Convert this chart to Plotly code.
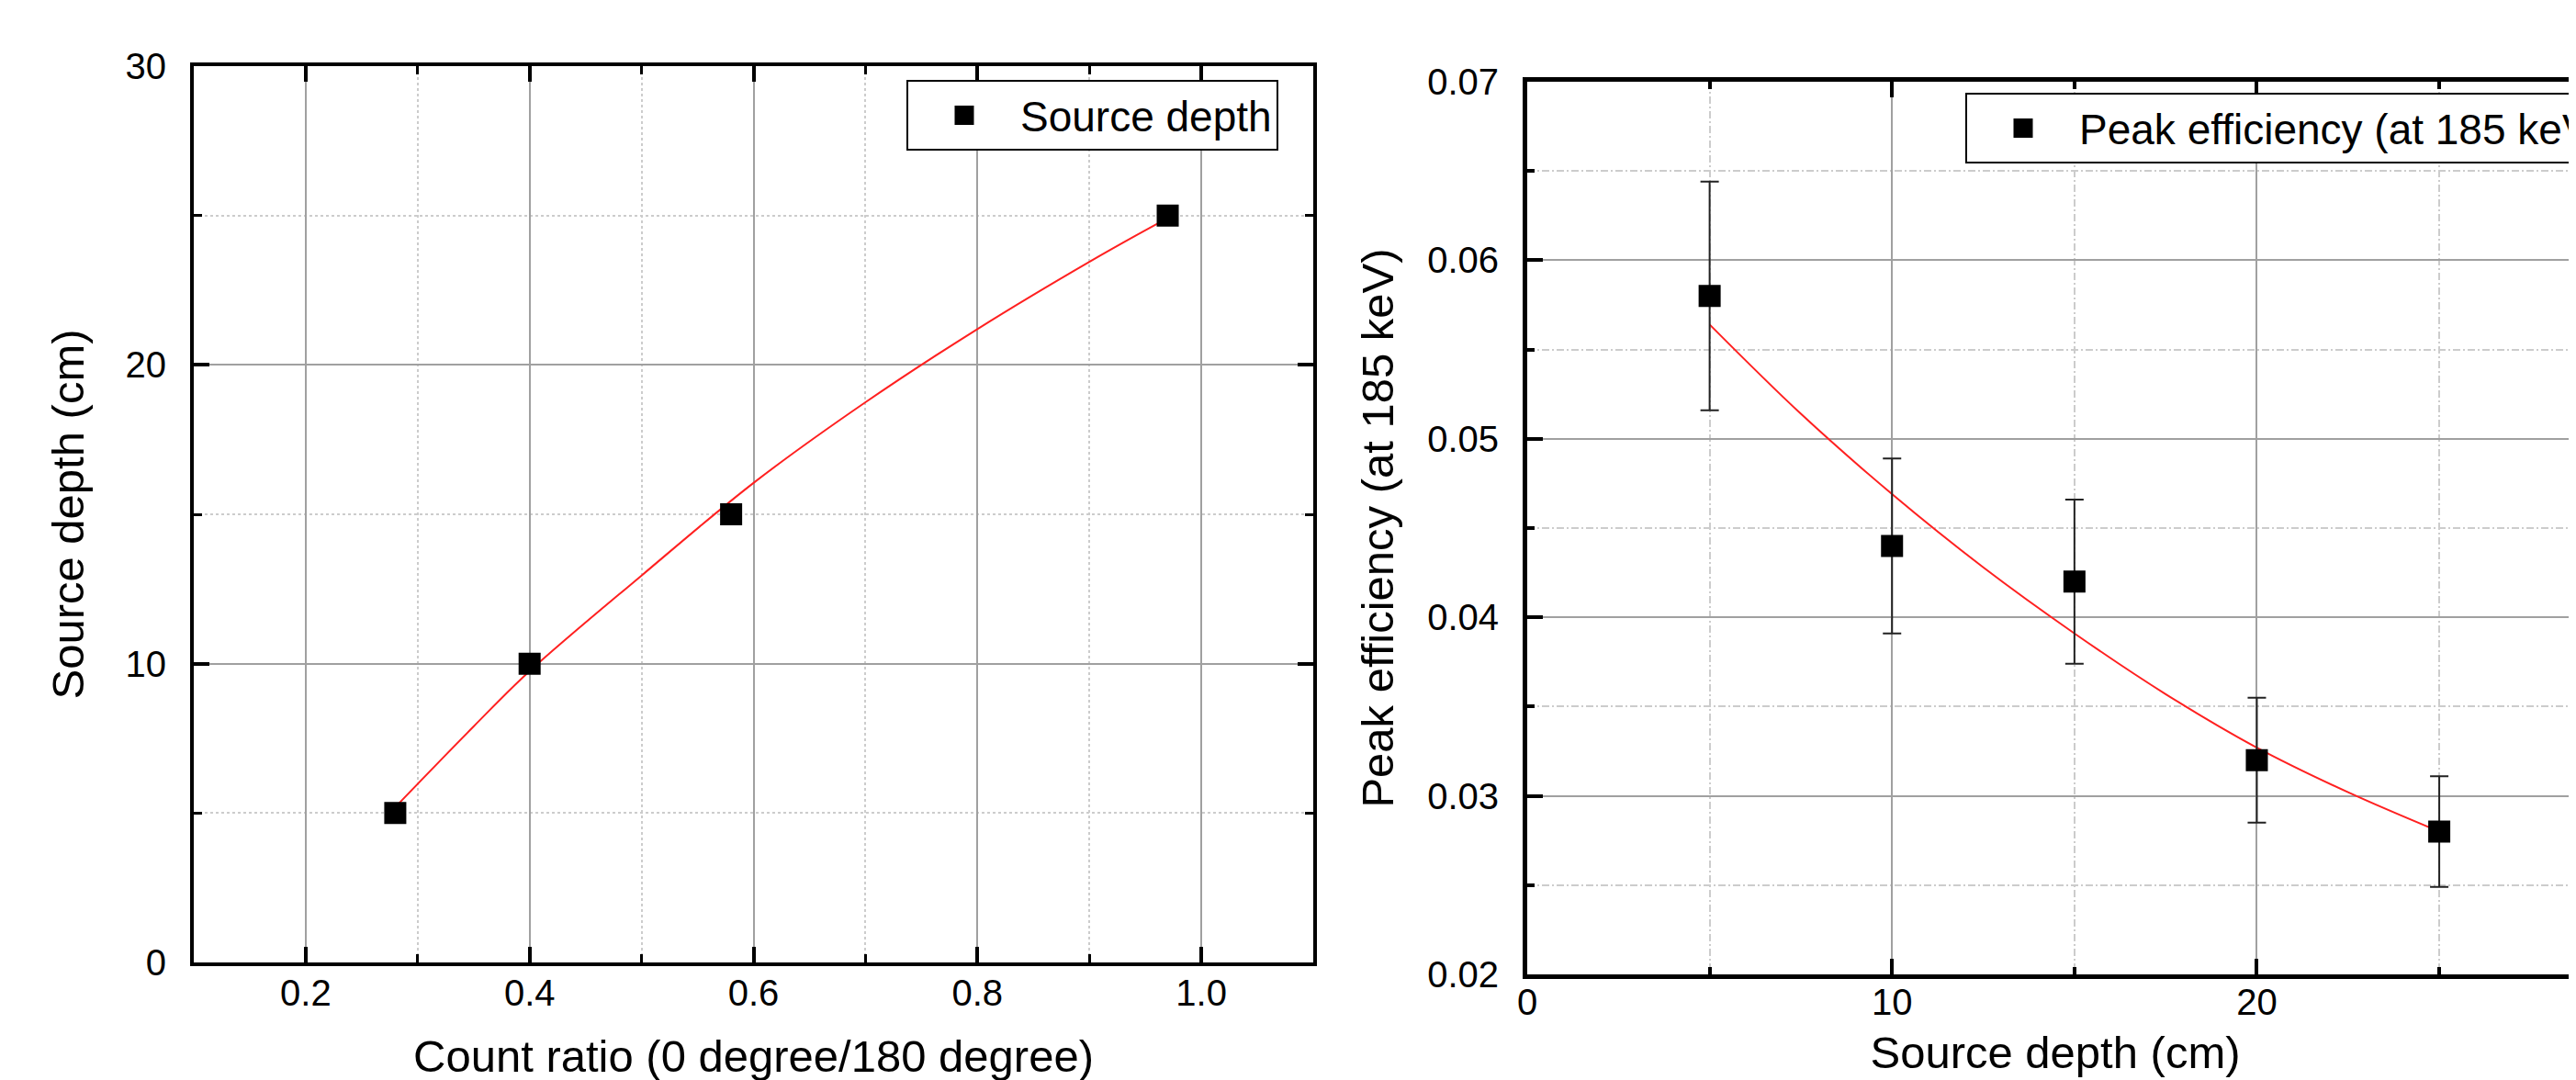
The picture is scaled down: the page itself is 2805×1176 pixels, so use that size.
import plotly.graph_objects as go

# ---- Left panel data ----
count_ratio = [0.28, 0.40, 0.58, 0.97]
source_depth = [5, 10, 15, 25]
fit_ratio = [0.28, 0.35, 0.40, 0.50, 0.60, 0.70, 0.80, 0.90, 0.97]
fit_depth = [5.2, 7.9, 9.75, 12.95, 16.05, 18.75, 21.2, 23.45, 24.92]

# ---- Right panel data ----
depth_cm = [5, 10, 15, 20, 25]
peak_eff = [0.058, 0.044, 0.042, 0.032, 0.028]
peak_err = [0.0064, 0.0049, 0.0046, 0.0035, 0.0031]
fit_x = [5, 7.5, 10, 12.5, 15, 17.5, 20, 22.5, 25]
fit_eff = [0.0564, 0.0514, 0.0469, 0.0428, 0.0391, 0.0357, 0.0327, 0.0302, 0.0280]

W, H = 2805, 1176
FONT = "Liberation Sans, Arial, sans-serif"

fig = go.Figure()

marker = dict(symbol="square", size=19, color="black", line=dict(color="black", width=5))

fig.add_trace(go.Scatter(x=fit_ratio, y=fit_depth, mode="lines", line=dict(color="#ff2020", width=2, shape="spline"),
                         showlegend=False, xaxis="x", yaxis="y", hoverinfo="skip"))
fig.add_trace(go.Scatter(x=count_ratio, y=source_depth, mode="markers", marker=marker, name="Source depth",
                         xaxis="x", yaxis="y", legend="legend"))

fig.add_trace(go.Scatter(x=fit_x, y=fit_eff, mode="lines", line=dict(color="#ff2020", width=2, shape="spline"),
                         showlegend=False, xaxis="x2", yaxis="y2", hoverinfo="skip"))
fig.add_trace(go.Scatter(x=depth_cm, y=peak_eff, mode="markers", marker=marker, name="Peak efficiency (at 185 keV)",
                         error_y=dict(type="data", array=peak_err, visible=True, color="#222", thickness=2, width=10),
                         xaxis="x2", yaxis="y2", legend="legend2"))

tickfont = dict(family=FONT, size=40, color="black")
titlefont = dict(family=FONT, size=49, color="black")

def ax_common(lw, tl):
    return dict(
        showline=True, linecolor="black", linewidth=lw,
        ticks="inside", ticklen=tl, tickwidth=4, tickcolor="black",
        showgrid=True, gridcolor="#a0a0a0", gridwidth=1.5,
        zeroline=False, tickfont=tickfont, automargin=False,
    )

left_x = (203 / W, 1422 / W)
left_y = (1 - 1040 / H, 1 - 64 / H)
right_x = (1655 / W, 1.0)
right_y = (1 - 1053 / H, 1 - 81 / H)

fig.update_layout(
    width=W, height=H,
    margin=dict(l=0, r=0, t=0, b=0, autoexpand=False),
    paper_bgcolor="white", plot_bgcolor="white",
    font=dict(family=FONT, color="black"),
    xaxis=dict(**ax_common(4, 17), domain=left_x, anchor="y", range=[0.1, 1.1], dtick=0.2, tick0=0,
               tickformat=".1f", mirror="allticks", ticklabelstandoff=-5,
               minor=dict(dtick=0.1, ticks="inside", ticklen=9, tickwidth=3, tickcolor="black",
                          showgrid=True, gridcolor="#cccccc", gridwidth=1.5, griddash="dot"),
               title=dict(text="Count ratio (0 degree/180 degree)", font=titlefont, standoff=32)),
    yaxis=dict(**ax_common(4, 17), domain=left_y, anchor="x", range=[0, 30], dtick=10,
               mirror="allticks", ticklabelstandoff=18,
               minor=dict(dtick=5, ticks="inside", ticklen=9, tickwidth=3, tickcolor="black",
                          showgrid=True, gridcolor="#cccccc", gridwidth=1.5, griddash="dot"),
               title=dict(text="Source depth (cm)", font=titlefont, standoff=30)),
    xaxis2=dict(**ax_common(5, 17), domain=right_x, anchor="y2", range=[0, 28.95], dtick=10,
                mirror="allticks", ticklabelstandoff=-9,
                minor=dict(dtick=5, ticks="inside", ticklen=8, tickwidth=4, tickcolor="black",
                           showgrid=True, gridcolor="#cccccc", gridwidth=1.5, griddash="8px,3px,2px,3px"),
                title=dict(text="Source depth (cm)", font=titlefont, standoff=18)),
    yaxis2=dict(**ax_common(5, 17), domain=right_y, anchor="x2", range=[0.02, 0.07], dtick=0.01,
                tickformat=".2f", mirror=False, ticklabelstandoff=18,
                minor=dict(dtick=0.005, ticks="inside", ticklen=8, tickwidth=4, tickcolor="black",
                           showgrid=True, gridcolor="#cccccc", gridwidth=1.5, griddash="8px,3px,2px,3px"),
                title=dict(text="Peak efficiency (at 185 keV)", font=titlefont, standoff=22)),
    legend=dict(x=1384 / W, y=1 - 79 / H, xanchor="right", yanchor="top", bgcolor="white",
                bordercolor="black", borderwidth=2, font=dict(family=FONT, size=46, color="black"),
                itemwidth=112),
    legend2=dict(x=2132 / W, y=1 - 93 / H, xanchor="left", yanchor="top", bgcolor="white",
                 bordercolor="black", borderwidth=2, font=dict(family=FONT, size=46, color="black"),
                 itemwidth=112),
)

fig.write_html("out.html")
